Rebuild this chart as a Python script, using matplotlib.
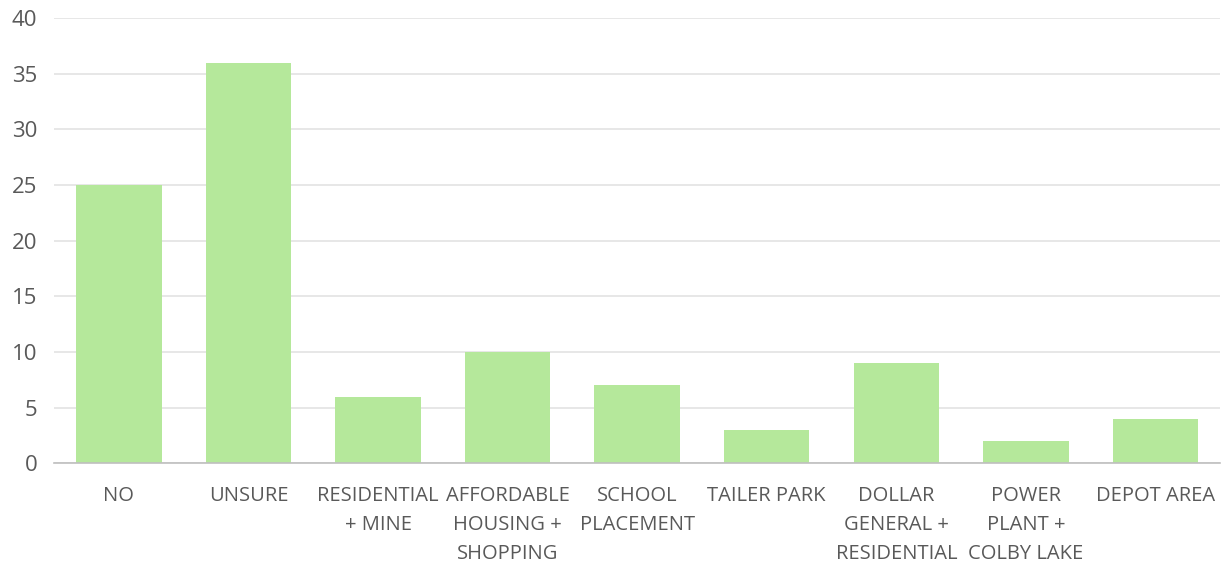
import matplotlib.pyplot as plt
import numpy as np

plt.rcParams["font.family"] = ["Open Sans", "DejaVu Sans"]

categories = [
    "NO",
    "UNSURE",
    "RESIDENTIAL\n+ MINE",
    "AFFORDABLE\nHOUSING +\nSHOPPING",
    "SCHOOL\nPLACEMENT",
    "TAILER PARK",
    "DOLLAR\nGENERAL +\nRESIDENTIAL",
    "POWER\nPLANT +\nCOLBY LAKE",
    "DEPOT AREA",
]
counts = [25, 36, 6, 10, 7, 3, 9, 2, 4]

TEXT = "#595959"

fig = plt.figure(figsize=(12.3, 5.65), dpi=100)
ax = fig.add_axes([0.044, 0.18, 0.948, 0.788])

x = np.arange(len(categories))
ax.bar(x, counts, width=0.66, color="#b5e89b", zorder=2)

ax.set_xlim(-0.5, len(categories) - 0.5)
ax.set_ylim(0, 40)
ax.set_yticks(np.arange(0, 41, 5))
ax.set_xticks(x)
ax.set_xticklabels(categories, linespacing=1.62)
ax.tick_params(axis="both", length=0, colors=TEXT)
ax.tick_params(axis="x", pad=16, labelsize=14.5)
ax.tick_params(axis="y", pad=12, labelsize=16)

ax.yaxis.grid(True, color="#e3e3e3", linewidth=1.2, zorder=0)
ax.set_axisbelow(True)
for side in ["top", "right", "left"]:
    ax.spines[side].set_visible(False)
ax.spines["bottom"].set_color("#bfbfbf")
ax.spines["bottom"].set_linewidth(1.2)

fig.savefig("out.png", dpi=100)
